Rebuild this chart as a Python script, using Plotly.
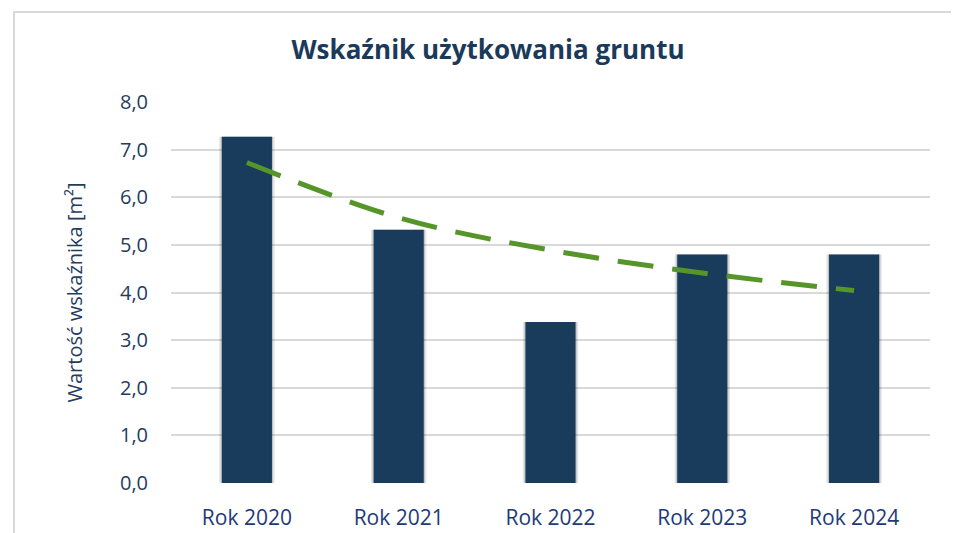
import plotly.graph_objects as go

categories = ["Rok 2020", "Rok 2021", "Rok 2022", "Rok 2023", "Rok 2024"]
values = [7.27, 5.32, 3.38, 4.80, 4.80]
trend_values = [6.73, 5.57, 4.89, 4.41, 4.04]
y_ticks = [0, 1, 2, 3, 4, 5, 6, 7, 8]
y_tick_labels = ["0,0", "1,0", "2,0", "3,0", "4,0", "5,0", "6,0", "7,0", "8,0"]

# page body has an 8px margin, so the figure is sized to the remaining area
OFF = 8
W, H = 959 - OFF, 533 - OFF
L, R, T, B = 171 - OFF, 29, 102 - OFF, 50
pw, ph = W - L - R, H - T - B

fig = go.Figure()
# soft shadow behind bars
fig.add_trace(go.Bar(x=categories, y=values, width=0.365, marker_color="rgba(0,0,0,0.10)",
                     marker_line_width=0, hoverinfo="skip", showlegend=False))
fig.add_trace(go.Bar(x=categories, y=values, width=0.345, marker_color="rgba(0,0,0,0.16)",
                     marker_line_width=0, hoverinfo="skip", showlegend=False))
fig.add_trace(go.Bar(x=categories, y=values, width=0.33, marker_color="#193b5c",
                     marker_line_width=0, showlegend=False))
fig.add_trace(go.Scatter(x=categories, y=trend_values, mode="lines",
                         line=dict(color="#56952a", width=5, dash="36px,19px", shape="spline"),
                         showlegend=False))

fig.update_layout(
    width=W, height=H,
    margin=dict(l=L, r=R, t=T, b=B),
    barmode="overlay",
    plot_bgcolor="white", paper_bgcolor="white",
    font=dict(family="Open Sans", size=20, color="#1f3d60"),
    title=dict(text="<b>Wskaźnik użytkowania gruntu</b>", x=(488 - OFF) / W, xanchor="center",
               y=1 - (50 - OFF) / H, yanchor="middle",
               font=dict(family="Open Sans", size=26, color="#1b3a5a")),
    xaxis=dict(showgrid=False, showline=False, ticks="", ticklabelstandoff=20, automargin=False,
               tickfont=dict(color="#1e3a78", size=21)),
    yaxis=dict(range=[0, 8], tickvals=y_ticks, ticktext=y_tick_labels, automargin=False,
               showgrid=True, gridcolor="#d9d9d9", gridwidth=1.5, zeroline=False,
               ticks="", ticklabelstandoff=22, tickfont=dict(size=20),
               title=dict(text="Wartość wskaźnika [m²]", standoff=31,
                          font=dict(size=20, color="#1f3d60"))),
    shapes=[dict(type="rect", xref="paper", yref="paper",
                 x0=(14 - OFF - L) / pw, x1=(958 - OFF - L) / pw,
                 y0=-0.3, y1=(H - B - (12 - OFF)) / ph,
                 line=dict(color="#d9d9d9", width=2), layer="below")],
)

fig.write_html("out.html")
